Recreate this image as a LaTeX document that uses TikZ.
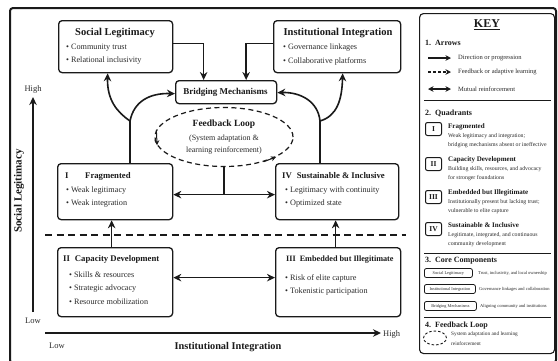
\documentclass[tikz,border=0pt]{standalone}
\usepackage{fontspec}
\setmainfont{Liberation Serif}
\usetikzlibrary{arrows.meta,shapes.geometric,calc}
\definecolor{ink}{HTML}{1A1A1A}
\definecolor{txt}{HTML}{2A2A2A}
\newcommand\myfs[1]{\fontsize{#1}{#1}\selectfont}
\begin{document}
\begin{tikzpicture}[x=1pt,y=-1pt,
  box/.style={draw=ink,line width=1.3pt,rounded corners=3.5pt,fill=white,inner sep=0pt,anchor=north west},
  ttl/.style={font=\myfs{10.5}\bfseries,text=ink,inner sep=0pt},
  qttl/.style={font=\myfs{8.7}\bfseries,text=ink,inner sep=0pt,anchor=west},
  bul/.style={font=\myfs{8.2},text=txt,inner sep=0pt,anchor=west},
  arr/.style={draw=ink,line width=1.6pt,-{Stealth[length=8pt,width=7.5pt]}},
  darr/.style={draw=ink,line width=1.6pt,{Stealth[length=8pt,width=7.5pt]}-{Stealth[length=8pt,width=7.5pt]}},
  trunk/.style={draw=ink,line width=1.6pt},
  keyh/.style={font=\myfs{8}\bfseries,text=ink,inner sep=0pt,anchor=west},
  keyt/.style={font=\myfs{6.5},text=txt,inner sep=0pt,anchor=west},
  kqt/.style={font=\myfs{7}\bfseries,text=ink,inner sep=0pt,anchor=west},
  kqd/.style={font=\myfs{5.8},text=txt,inner sep=0pt,anchor=west},
  kbox/.style={draw=ink,line width=1pt,rounded corners=2pt,inner sep=0pt,anchor=north west,minimum width=16pt,minimum height=13pt,font=\myfs{7.5}\bfseries,text=ink},
  cbox/.style={draw=ink,line width=0.8pt,rounded corners=2pt,inner sep=0pt,anchor=west,minimum height=9pt,font=\myfs{4.3},text=txt},
  ctxt/.style={font=\myfs{4.5},text=txt,inner sep=0pt,anchor=west},
  karr/.style={draw=ink,line width=1.1pt},
  sep/.style={draw=ink,line width=1pt},
  axlab/.style={font=\myfs{8.5},text=txt,inner sep=0pt}
]
\useasboundingbox (0,0) rectangle (558,360);
\fill[white] (0,0) rectangle (558,360);
\draw[ink,line width=2pt,rounded corners=3pt] (10,8) rectangle (556,363);

% ---- top boxes
\node[box,minimum width=114pt,minimum height=52pt] (SL) at (58,20) {};
\node[ttl] (slt) at (115,33) {Social Legitimacy};
\node[bul] (sl1) at (66,48) {• Community trust};
\node[bul] (sl2) at (66,61) {• Relational inclusivity};

\node[box,minimum width=127pt,minimum height=52pt] (INT) at (273,20) {};
\node[ttl] (intt) at (338,33) {Institutional Integration};
\node[bul] (in1) at (283,48) {• Governance linkages};
\node[bul] (in2) at (283,61) {• Collaborative platforms};

\node[box,minimum width=101pt,minimum height=23pt] (BM) at (175,80) {};
\node[font=\myfs{9}\bfseries,text=ink,inner sep=0pt] (bmt) at (225.5,92) {Bridging Mechanisms};

% ---- feedback loop
\node[draw=ink,dashed,dash pattern=on 5pt off 3.5pt,line width=1.2pt,ellipse,minimum width=138pt,minimum height=59pt,inner sep=0pt] (fb) at (224,137) {};
\node[font=\myfs{9.5}\bfseries,text=ink,inner sep=0pt] (fbt) at (224,124) {Feedback Loop};
\node[font=\myfs{8},text=txt,inner sep=0pt] (fb1) at (224,139) {(System adaptation \&};
\node[font=\myfs{8},text=txt,inner sep=0pt] (fb2) at (224,151) {learning reinforcement)};
\draw[ink,line width=1pt,-{Stealth[length=5pt,width=5pt]}] (fb.174) -- (fb.187);
\draw[ink,line width=1pt,-{Stealth[length=5pt,width=5pt]}] (fb.-32) -- (fb.-21);

% ---- quadrants
\node[box,minimum width=115pt,minimum height=56pt] (Q1) at (57,163) {};
\node[qttl] (q1n) at (65,176) {I};
\node[qttl] (q1t) at (85,176) {Fragmented};
\node[bul] (q1a) at (66,191) {• Weak legitimacy};
\node[bul] (q1b) at (66,204) {• Weak integration};

\node[box,minimum width=123pt,minimum height=56pt] (Q4) at (275,163) {};
\node[qttl] (q4t) at (282,176) {IV\hspace{5pt}Sustainable \& Inclusive};
\node[bul] (q4a) at (285,191) {• Legitimacy with continuity};
\node[bul] (q4b) at (285,204) {• Optimized state};

\node[box,minimum width=115pt,minimum height=69pt] (Q2) at (57,247) {};
\node[qttl] (q2t) at (63,259) {II\hspace{5pt}Capacity Development};
\node[bul] (q2a) at (69,275) {• Skills \& resources};
\node[bul] (q2b) at (69,289) {• Strategic advocacy};
\node[bul] (q2c) at (69,302) {• Resource mobilization};

\node[box,minimum width=125pt,minimum height=69pt] (Q3) at (275,247) {};
\node[qttl,font=\myfs{8.2}\bfseries] (q3t) at (286,260) {III\hspace{4pt}Embedded but Illegitimate};
\node[bul] (q3a) at (285,278) {• Risk of elite capture};
\node[bul] (q3b) at (285,292) {• Tokenistic participation};

% ---- divider
\coordinate (dl) at (45,235);
\coordinate (dr) at (406,235);
\draw[ink,line width=1.4pt,dash pattern=on 7pt off 4.5pt] (dl) -- (dr);

% ---- arrows top
\draw[arr] ([yshift=3pt]SL.east) -| ([xshift=-22.5pt]BM.north);
\draw[arr] ([yshift=3pt]INT.west) -| ([xshift=20pt]BM.north);

% ---- curved branches
\coordinate (br1) at (130,121);
\draw[trunk] (Q1.north -| br1) -- (br1);
\draw[arr] (br1) .. controls (117,112) and (107,100) .. ([xshift=-8pt]SL.south);
\draw[arr] (br1) .. controls (134,101) and (150,93) .. ([yshift=-1.5pt]BM.west);
\coordinate (br2) at (320,121);
\draw[trunk] (Q4.north -| br2) -- (br2);
\draw[arr] (br2) .. controls (318,101) and (300,92) .. ([yshift=-0.5pt]BM.east);
\draw[arr] (br2) .. controls (337,116) and (342,100) .. ([xshift=5.5pt]INT.south);

% ---- quadrant links
\draw[darr] ([yshift=-3pt]Q1.east) -- ([yshift=-3pt]Q4.west);
\coordinate (h1) at ([yshift=-3pt]Q1.east);
\draw[trunk] (fb.south) -- (fb.south |- h1);
\draw[darr] ([yshift=4.5pt]Q2.east) -- ([yshift=4.5pt]Q3.west);
\draw[arr] ([xshift=-3.5pt]Q2.north) -- ([xshift=-3.5pt]Q1.south);
\draw[arr] ([xshift=-2.5pt]Q3.north) -- ([xshift=-1.5pt]Q4.south);

% ---- axes
\coordinate (yb) at (33,312);
\coordinate (yt) at (33,97);
\draw[arr,line width=1.3pt] (yb) -- (yt);
\node[axlab] (yhi) at (33,89) {High};
\node[axlab] (ylo) at (33,321) {Low};
\node[font=\myfs{11}\bfseries,text=ink,inner sep=0pt,rotate=90] (ylab) at (19,191) {Social Legitimacy};
\coordinate (xl) at (45,333);
\coordinate (xr) at (381,333);
\draw[arr,line width=1.3pt] (xl) -- (xr);
\node[axlab,anchor=west] (xhi) at (383,334) {High};
\node[axlab] (xlo) at (57,346) {Low};
\node[font=\myfs{10.3}\bfseries,text=ink,inner sep=0pt] (xlab) at (228,347) {Institutional Integration};

% ---- key
\node[draw=ink,line width=1.1pt,rounded corners=4pt,inner sep=0pt,anchor=north west,minimum width=135pt,minimum height=340pt] (key) at (419,13) {};
\node[font=\myfs{12}\bfseries,text=ink,inner sep=0pt] (keyt) at (487,24) {KEY};
\draw[ink,line width=0.8pt] ([yshift=-1pt]keyt.south west) -- ([yshift=-1pt]keyt.south east);
\node[keyh] (k1) at (425,43) {1.\hspace{4pt}Arrows};
\coordinate (a1l) at (428,58); \coordinate (a1r) at (451,58);
\draw[karr,-{Stealth[length=5.5pt,width=5.5pt]}] (a1l) -- (a1r);
\node[keyt] (a1t) at (458,58) {Direction or progression};
\coordinate (a2l) at (428,72); \coordinate (a2r) at (451,72);
\draw[karr,dash pattern=on 3pt off 2pt,-{Stealth[length=5.5pt,width=5.5pt]}] (a2l) -- (a2r);
\node[keyt] (a2t) at (458,72) {Feedback or adaptive learning};
\coordinate (a3l) at (428,89); \coordinate (a3r) at (451,89);
\draw[karr,{Stealth[length=5.5pt,width=5.5pt]}-{Stealth[length=5.5pt,width=5.5pt]}] (a3l) -- (a3r);
\node[keyt] (a3t) at (458,89) {Mutual reinforcement};
\coordinate (s1l) at (424,100); \coordinate (s1r) at (551,100);
\draw[sep] (s1l) -- (s1r);

\node[keyh] (k2) at (425,113) {2.\hspace{4pt}Quadrants};
\node[kbox] (kq1) at (425,122) {I};
\node[kqt] (kq1t) at (448,127) {Fragmented};
\node[kqd] (kq1a) at (448,136) {Weak legitimacy and integration;};
\node[kqd] (kq1b) at (448,145) {bridging mechanisms absent or ineffective};
\node[kbox] (kq2) at (425,157) {II};
\node[kqt] (kq2t) at (448,160) {Capacity Development};
\node[kqd] (kq2a) at (448,169) {Building skills, resources, and advocacy};
\node[kqd] (kq2b) at (448,178) {for stronger foundations};
\node[kbox] (kq3) at (425,190) {III};
\node[kqt] (kq3t) at (448,193) {Embedded but Illegitimate};
\node[kqd] (kq3a) at (448,202) {Institutionally present but lacking trust;};
\node[kqd] (kq3b) at (448,211) {vulnerable to elite capture};
\node[kbox] (kq4) at (425,222) {IV};
\node[kqt] (kq4t) at (448,225) {Sustainable \& Inclusive};
\node[kqd] (kq4a) at (448,235) {Legitimate, integrated, and continuous};
\node[kqd] (kq4b) at (448,244) {community development};
\coordinate (s2l) at (424,253); \coordinate (s2r) at (551,253);
\draw[sep] (s2l) -- (s2r);

\node[keyh] (k3) at (425,261) {3.\hspace{4pt}Core Components};
\node[cbox,minimum width=48pt] (c1) at (424,273) {Social Legitimacy};
\node[ctxt] (c1t) at (478,273) {Trust, inclusivity, and local ownership};
\node[cbox,minimum width=51pt] (c2) at (424,289) {Institutional Integration};
\node[ctxt] (c2t) at (479,289) {Governance linkages and collaboration};
\node[cbox,minimum width=52pt] (c3) at (424,306) {Bridging Mechanisms};
\node[ctxt] (c3t) at (480,306) {Aligning community and institutions};
\coordinate (s3l) at (424,317); \coordinate (s3r) at (551,317);
\draw[sep] (s3l) -- (s3r);

\node[keyh] (k4) at (425,326) {4.\hspace{4pt}Feedback Loop};
\node[draw=ink,line width=0.9pt,dash pattern=on 2.5pt off 2pt,ellipse,minimum width=23pt,minimum height=14pt,inner sep=0pt] (kel) at (435,338) {};
\node[ctxt,font=\myfs{5.3}] (k4a) at (451,334) {System adaptation and learning};
\node[ctxt,font=\myfs{5.3}] (k4b) at (451,344) {reinforcement};
\end{tikzpicture}
\end{document}
